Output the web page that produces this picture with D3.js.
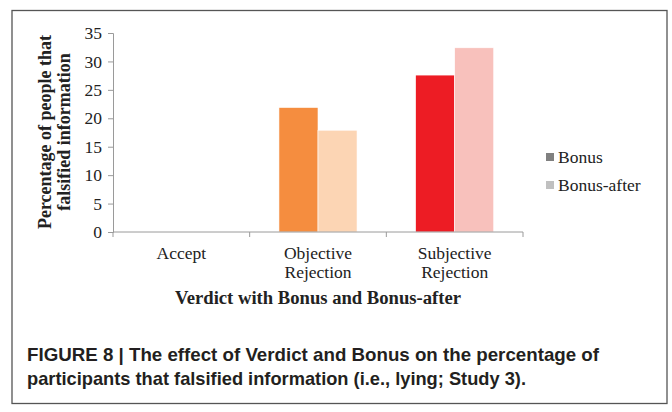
<!DOCTYPE html>
<html>
<head>
<meta charset="utf-8">
<script src="https://cdn.jsdelivr.net/npm/d3@7"></script>
<style>
  body { margin: 0; background: #fff; }
  svg { display: block; }
</style>
</head>
<body>
<svg id="chart" width="672" height="412"></svg>
<script>
// data
const categories = ['Accept', 'Objective Rejection', 'Subjective Rejection']
const categoryLines = [['Accept'], ['Objective', 'Rejection'], ['Subjective', 'Rejection']]
const series = ['Bonus', 'Bonus-after']
const bonusValues = [0, 21.9, 27.6]
const bonusAfterValues = [0, 17.9, 32.4]
const yTicks = [0, 5, 10, 15, 20, 25, 30, 35]

// each category has its own pair of colours
const barColors = [
  ['#808080', '#c0c0c0'],
  ['#f58d3f', '#fcd5b4'],
  ['#ed1c24', '#f8c1bc']
]
const legendColors = ['#808080', '#c0c0c0']

const serif = 'Liberation Serif, Times New Roman, serif'
const margin = { top: 33, left: 113, bottom: 232, right: 523 }

const svg = d3.select('#chart')

// outer frame
svg.append('rect')
  .attr('x', 12).attr('y', 10.5)
  .attr('width', 655).attr('height', 393)
  .attr('fill', '#fff')
  .attr('stroke', '#555')
  .attr('stroke-width', 1.3)

const x0 = d3.scaleBand().domain(categories).range([margin.left, margin.right]).padding(0)
const x1 = d3.scaleBand().domain(series).range([0, x0.bandwidth()]).paddingInner(0).paddingOuter(0.75)
const y = d3.scaleLinear().domain([0, 35]).range([margin.bottom, margin.top])

const rows = categories.map((c, i) => ({
  cat: c, i,
  vals: [bonusValues[i], bonusAfterValues[i]]
}))

// bars
const groups = svg.append('g').attr('class', 'bars')
  .selectAll('g').data(rows).enter().append('g')
  .attr('transform', d => `translate(${x0(d.cat)},0)`)

groups.selectAll('rect')
  .data(d => d.vals.map((v, j) => ({ v, j, i: d.i })))
  .enter().append('rect')
  .attr('x', d => x1(series[d.j]))
  .attr('y', d => y(d.v))
  .attr('width', x1.bandwidth())
  .attr('height', d => y(0) - y(d.v))
  .attr('fill', d => barColors[d.i][d.j])
  .attr('stroke', d => d.v > 0 ? '#fff' : 'none')
  .attr('stroke-width', 0.6)

// y axis
const yAxis = d3.axisLeft(y).tickValues(yTicks).tickSize(5).tickPadding(6)
const gy = svg.append('g').attr('transform', `translate(${margin.left},0)`).call(yAxis)
gy.select('.domain').attr('stroke', '#9a9a9a')
gy.selectAll('.tick line').attr('stroke', '#9a9a9a')
gy.selectAll('.tick text')
  .attr('font-family', serif)
  .attr('font-size', 17.5).attr('fill', '#222')

// x axis: ticks at category boundaries, hanging down
const gx = svg.append('g').attr('transform', `translate(0,${margin.bottom})`)
gx.append('line')
  .attr('x1', margin.left).attr('x2', margin.right)
  .attr('stroke', '#9a9a9a')
const bounds = categories.map(c => x0(c)).concat([x0(categories[2]) + x0.bandwidth()])
gx.selectAll('line.tk').data(bounds).enter().append('line')
  .attr('class', 'tk')
  .attr('x1', d => d).attr('x2', d => d)
  .attr('y1', 0).attr('y2', 5)
  .attr('stroke', '#9a9a9a')

gx.selectAll('text.cat').data(categoryLines).enter().append('text')
  .attr('class', 'cat')
  .attr('x', (d, i) => x0(categories[i]) + x0.bandwidth() / 2)
  .attr('y', 27)
  .attr('text-anchor', 'middle')
  .attr('font-family', serif)
  .attr('font-size', 17.5).attr('fill', '#222')
  .each(function (d) {
    const t = d3.select(this)
    d.forEach((line, k) => {
      t.append('tspan').attr('x', t.attr('x')).attr('dy', k === 0 ? 0 : 19).text(line)
    })
  })

// axis titles
svg.append('text')
  .attr('x', 318).attr('y', 304)
  .attr('text-anchor', 'middle')
  .attr('font-family', serif)
  .attr('font-weight', 'bold').attr('font-size', 18.5).attr('fill', '#222')
  .attr('textLength', 286).attr('lengthAdjust', 'spacingAndGlyphs')
  .text('Verdict with Bonus and Bonus-after')

const yTitle = svg.append('text')
  .attr('transform', 'translate(51,132) rotate(-90)')
  .attr('text-anchor', 'middle')
  .attr('font-family', serif)
  .attr('font-weight', 'bold').attr('font-size', 18).attr('fill', '#222')
yTitle.append('tspan').attr('x', 0).attr('dy', 0).text('Percentage of people that')
yTitle.append('tspan').attr('x', 0).attr('dy', 19).text('falsified information')

// legend
const legend = svg.append('g').selectAll('g').data(series).enter().append('g')
  .attr('transform', (d, i) => `translate(546,${157 + i * 28})`)
legend.append('rect')
  .attr('x', 0).attr('y', -4).attr('width', 8).attr('height', 8)
  .attr('fill', (d, i) => legendColors[i])
legend.append('text')
  .attr('x', 12).attr('y', 0).attr('dy', '0.35em')
  .attr('font-family', serif)
  .attr('font-size', 17.5).attr('fill', '#222')
  .text(d => d)

// caption
const caption = svg.append('g')
  .attr('font-family', 'Liberation Sans Narrow, Liberation Sans, Arial, sans-serif')
  .attr('font-weight', 'bold').attr('font-size', 19).attr('fill', '#231f20')
caption.append('text').attr('x', 27).attr('y', 361)
  .attr('textLength', 572).attr('lengthAdjust', 'spacingAndGlyphs')
  .text('FIGURE 8 | The effect of Verdict and Bonus on the percentage of')
caption.append('text').attr('x', 27).attr('y', 385)
  .attr('textLength', 499).attr('lengthAdjust', 'spacingAndGlyphs')
  .text('participants that falsified information (i.e., lying; Study 3).')
</script>
</body>
</html>
